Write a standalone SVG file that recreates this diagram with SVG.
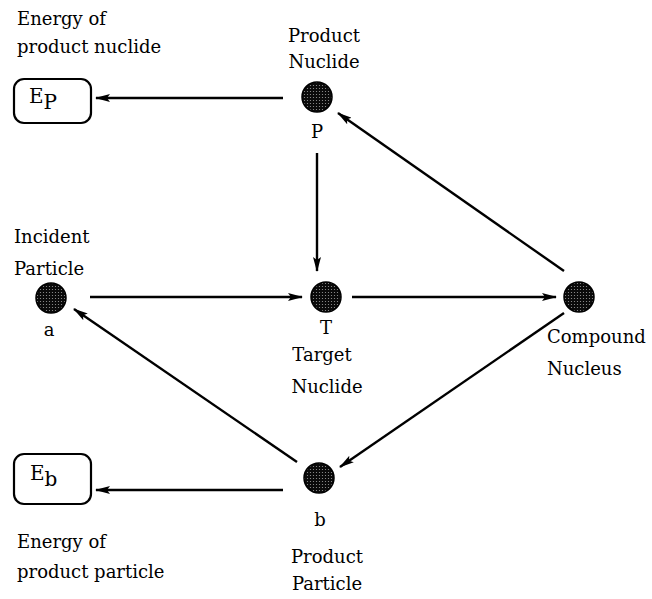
<svg xmlns="http://www.w3.org/2000/svg" width="652" height="599" viewBox="0 0 652 599">
  <defs>
    <pattern id="stipple" width="3" height="3" patternUnits="userSpaceOnUse">
      <rect width="3" height="3" fill="#0a0a0a"/>
      <circle cx="1.5" cy="1.5" r="0.6" fill="#999"/>
    </pattern>
    <marker id="head" viewBox="0 0 15 8" refX="14" refY="4" markerWidth="15" markerHeight="8" markerUnits="userSpaceOnUse" orient="auto">
      <path d="M0,0 L15,4 L0,8 L3,4 Z" fill="#000"/>
    </marker>
    <style>
      .lbl { font-family: "DejaVu Serif", "Liberation Serif", serif; font-size: 18px; fill: #000; }
      .sym { font-family: "DejaVu Serif", "Liberation Serif", serif; font-size: 20px; fill: #000; }
      .mid { text-anchor: middle; }
      .dot { fill: url(#stipple); stroke: #000; stroke-width: 1.5; }
      .box { fill: #fff; stroke: #000; stroke-width: 2.2; }
      .edge { stroke: #000; stroke-width: 2.4; fill: none; marker-end: url(#head); }
    </style>
  </defs>
  <rect width="652" height="599" fill="#fff"/>

  <!-- connectors -->
  <g id="connectors">
    <line class="edge" x1="283" y1="98" x2="96" y2="98"/>
    <line class="edge" x1="317" y1="153" x2="317" y2="271"/>
    <line class="edge" x1="90" y1="297" x2="302" y2="297"/>
    <line class="edge" x1="352" y1="297" x2="556" y2="297"/>
    <line class="edge" x1="564" y1="271" x2="338" y2="113"/>
    <line class="edge" x1="564" y1="313" x2="340" y2="467"/>
    <line class="edge" x1="297" y1="462" x2="74" y2="309"/>
    <line class="edge" x1="283" y1="490" x2="96" y2="490"/>
  </g>

  <!-- energy of product nuclide -->
  <g id="node-ep">
    <text class="lbl" x="17" y="25">Energy of</text>
    <text class="lbl" x="17" y="53">product nuclide</text>
    <rect class="box" x="14" y="79" width="77" height="44" rx="10"/>
    <text class="sym" x="29" y="103">E<tspan dy="6">P</tspan></text>
  </g>

  <!-- product nuclide -->
  <g id="node-p">
    <text class="lbl mid" x="324" y="42">Product</text>
    <text class="lbl mid" x="324" y="68">Nuclide</text>
    <circle class="dot" cx="317" cy="97" r="15"/>
    <text class="lbl mid" x="317" y="138">P</text>
  </g>

  <!-- incident particle -->
  <g id="node-a">
    <text class="lbl" x="14" y="243">Incident</text>
    <text class="lbl" x="14" y="275">Particle</text>
    <circle class="dot" cx="51" cy="298" r="15"/>
    <text class="lbl mid" x="49" y="336">a</text>
  </g>

  <!-- target nuclide -->
  <g id="node-t">
    <circle class="dot" cx="326" cy="297" r="15"/>
    <text class="lbl mid" x="326" y="334">T</text>
    <text class="lbl mid" x="322" y="361">Target</text>
    <text class="lbl mid" x="327" y="393">Nuclide</text>
  </g>

  <!-- compound nucleus -->
  <g id="node-c">
    <circle class="dot" cx="579" cy="297" r="15"/>
    <text class="lbl" x="547" y="343">Compound</text>
    <text class="lbl" x="547" y="375">Nucleus</text>
  </g>

  <!-- product particle -->
  <g id="node-b">
    <circle class="dot" cx="319" cy="478" r="15"/>
    <text class="lbl mid" x="320" y="526">b</text>
    <text class="lbl mid" x="327" y="563">Product</text>
    <text class="lbl mid" x="327" y="590">Particle</text>
  </g>

  <!-- energy of product particle -->
  <g id="node-eb">
    <rect class="box" x="14" y="454" width="77" height="50" rx="10"/>
    <text class="sym" x="30" y="480">E<tspan dy="6">b</tspan></text>
    <text class="lbl" x="17" y="548">Energy of</text>
    <text class="lbl" x="17" y="578">product particle</text>
  </g>
</svg>
